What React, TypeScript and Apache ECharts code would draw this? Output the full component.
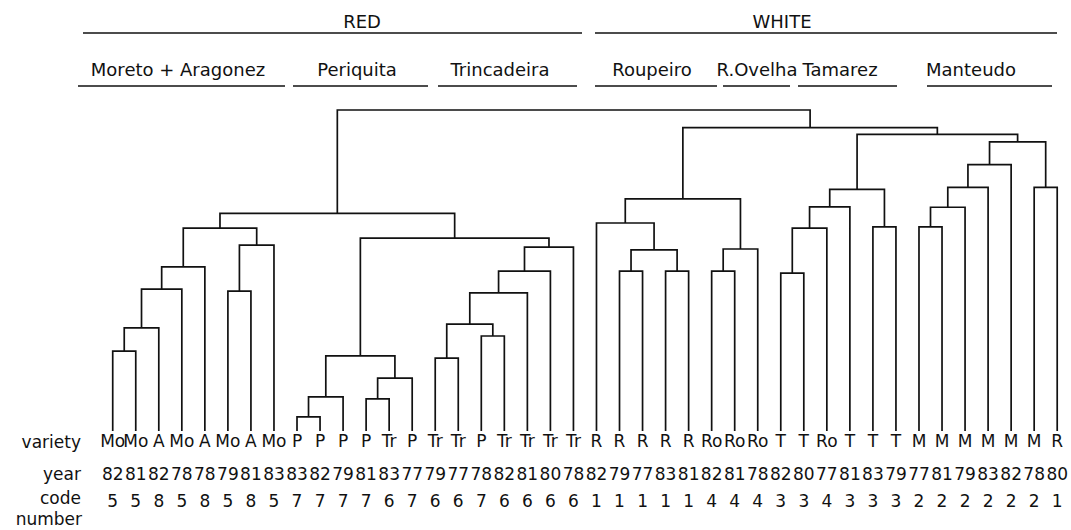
import React, { useEffect, useRef } from 'react';
import * as echarts from 'echarts';

// ---- leaf data (left to right) ----
const varieties = ['Mo','Mo','A','Mo','A','Mo','A','Mo','P','P','P','P','Tr','P','Tr','Tr','P','Tr','Tr','Tr','Tr','R','R','R','R','R','Ro','Ro','Ro','T','T','Ro','T','T','T','M','M','M','M','M','M','R'];
const years = ['82','81','82','78','78','79','81','83','83','82','79','81','83','77','79','77','78','82','81','80','78','82','79','77','83','81','82','81','78','82','80','77','81','83','79','77','81','79','83','82','78','80'];
const codes = ['5','5','8','5','8','5','8','5','7','7','7','7','6','7','6','6','7','6','6','6','6','1','1','1','1','1','4','4','4','3','3','4','3','3','3','2','2','2','2','2','2','1'];

// ---- linkage: [left child, right child, merge height]; ids >= 42 are earlier merges in order ----
const linkage: [number, number, number][] = [
  [0, 1, 24.9],    // 42
  [42, 2, 32.1],   // 43
  [43, 3, 44.2],   // 44
  [44, 4, 51.1],   // 45
  [5, 6, 43.6],    // 46
  [46, 7, 57.9],   // 47
  [45, 47, 63.2],  // 48 Moreto + Aragonez
  [8, 9, 4.4],     // 49
  [49, 10, 10.6],  // 50
  [11, 12, 10.0],  // 51
  [51, 13, 16.5],  // 52
  [50, 52, 23.4],  // 53 Periquita
  [14, 15, 22.7],  // 54
  [16, 17, 29.6],  // 55
  [54, 55, 33.3],  // 56
  [56, 18, 43.0],  // 57
  [57, 19, 49.8],  // 58
  [58, 20, 57.3],  // 59 Trincadeira
  [53, 59, 60.1],  // 60
  [48, 60, 67.8],  // 61 RED
  [22, 23, 49.8],  // 62
  [24, 25, 49.8],  // 63
  [62, 63, 56.4],  // 64
  [21, 64, 64.8],  // 65
  [26, 27, 49.8],  // 66
  [66, 28, 56.7],  // 67
  [65, 67, 72.3],  // 68 Roupeiro
  [29, 30, 49.2],  // 69
  [69, 31, 63.2],  // 70
  [70, 32, 69.8],  // 71
  [33, 34, 63.6],  // 72
  [71, 72, 75.3],  // 73 Tamarez
  [35, 36, 63.6],  // 74
  [74, 37, 69.7],  // 75
  [75, 38, 75.9],  // 76
  [76, 39, 83.0],  // 77
  [40, 41, 75.9],  // 78
  [77, 78, 90.1],  // 79 Manteudo
  [73, 79, 92.4],  // 80
  [68, 80, 94.5],  // 81 WHITE
  [61, 81, 100.0], // 82 root
];

const FONT = '"DejaVu Sans", sans-serif';
const INK = '#111';

function buildSegments() {
  const nodeX: number[] = varieties.map((_, i) => i);
  const nodeH: number[] = varieties.map(() => 0);
  return linkage.map(([a, b, h]) => {
    const row = [nodeX[a], nodeX[b], h, nodeH[a], nodeH[b]];
    nodeX.push((nodeX[a] + nodeX[b]) / 2);
    nodeH.push(h);
    return row;
  });
}

function hline(x1: number, x2: number, y: number) {
  return { type: 'line', shape: { x1, y1: y, x2, y2: y }, style: { stroke: INK, lineWidth: 1.5 }, silent: true };
}
function label(text: string, x: number, y: number, size: number, align: string = 'center', va: string = 'middle') {
  return { type: 'text', x, y, silent: true, style: { text, fill: INK, font: `${size}px ${FONT}`, align, verticalAlign: va } };
}

export default function App() {
  const ref = useRef<HTMLDivElement>(null);
  useEffect(() => {
    const chart = echarts.init(ref.current!, null, { renderer: 'svg' });
    const segs = buildSegments();
    const catAxis = (data: string[], offset: number) => ({
      type: 'category', data, position: 'bottom', offset, gridIndex: 0,
      axisLine: { show: false }, axisTick: { show: false }, splitLine: { show: false },
      axisLabel: { interval: 0, margin: 1, fontSize: 17, color: INK, fontFamily: FONT },
    });
    chart.setOption({
      animation: false,
      backgroundColor: '#fff',
      grid: { left: 101.2, right: 0.5, top: 110, bottom: 99 },
      xAxis: [
        { type: 'value', min: -0.5, max: 41.5, show: false },
        catAxis(varieties, 0),
        catAxis(years, 33),
        catAxis(codes, 60),
      ],
      yAxis: { type: 'value', min: 0, max: 100, show: false },
      series: [{
        type: 'custom',
        xAxisIndex: 0,
        yAxisIndex: 0,
        silent: true,
        data: segs,
        encode: { x: [0, 1], y: [2, 3, 4] },
        renderItem: (_p: any, api: any) => {
          const xL = api.value(0), xR = api.value(1), h = api.value(2), hL = api.value(3), hR = api.value(4);
          const pts = [api.coord([xL, hL]), api.coord([xL, h]), api.coord([xR, h]), api.coord([xR, hR])];
          return { type: 'polyline', shape: { points: pts }, style: { stroke: INK, lineWidth: 1.7, fill: null } };
        },
      }],
      graphic: [
        // group headers
        label('RED', 362, 21, 18),
        hline(83, 582, 33),
        label('WHITE', 782, 21, 18),
        hline(595, 1057, 33),
        // variety headers
        label('Moreto + Aragonez', 178, 69, 18),
        hline(78, 285, 86),
        label('Periquita', 357, 69, 18),
        hline(293, 428, 86),
        label('Trincadeira', 500, 69, 18),
        hline(438, 577, 86),
        label('Roupeiro', 652, 69, 18),
        hline(595, 717, 86),
        label('R.Ovelha', 757, 69, 18),
        hline(723, 790, 86),
        label('Tamarez', 840, 69, 18),
        hline(798, 897, 86),
        label('Manteudo', 971, 69, 18),
        hline(927, 1052, 86),
        // row titles
        label('variety', 81, 433, 17, 'right', 'top'),
        label('year', 81, 465, 17, 'right', 'top'),
        label('code', 81, 489, 17, 'right', 'top'),
        label('number', 82, 510, 17, 'right', 'top'),
      ],
    });
    return () => chart.dispose();
  }, []);
  return <div ref={ref} style={{ position: 'absolute', left: 0, top: 0, width: 1071, height: 530, background: '#fff' }} />;
}
